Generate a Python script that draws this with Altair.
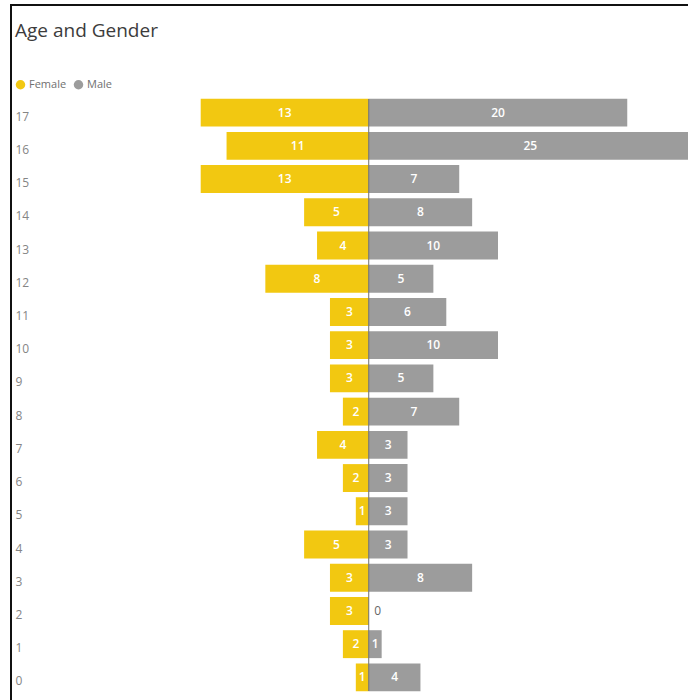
import altair as alt
import pandas as pd

# Age groups, top to bottom
ages = [17, 16, 15, 14, 13, 12, 11, 10, 9, 8, 7, 6, 5, 4, 3, 2, 1, 0]
female = [13, 11, 13, 5, 4, 8, 3, 3, 3, 2, 4, 2, 1, 5, 3, 3, 2, 1]
male = [20, 25, 7, 8, 10, 5, 6, 10, 5, 7, 3, 3, 3, 3, 8, 0, 1, 4]

genders = ["Female", "Male"]
colors = ["#F2C811", "#9C9C9C"]
chart_title = "Age and Gender"

rows = []
for a, f, m in zip(ages, female, male):
    rows.append({"age": a, "gender": "Female", "count": f, "signed": -f})
    rows.append({"age": a, "gender": "Male", "count": m, "signed": m})
df = pd.DataFrame(rows)

W, H = 676, 598
FONT = "Open Sans"

x_scale = alt.Scale(domain=[-27.6, 24.7], nice=False, zero=False)
y_scale = alt.Scale(paddingInner=0.16, paddingOuter=0.08)

base = alt.Chart(df)

y_enc = alt.Y(
    "age:O",
    sort="descending",
    scale=y_scale,
    axis=alt.Axis(
        title=None,
        orient="left",
        domain=False,
        ticks=False,
        tickSize=0,
        labelAlign="left",
        labelPadding=-3,
        labelOffset=4,
        labelFont=FONT,
        labelFontSize=12,
        labelColor="#858585",
    ),
)

bars = base.mark_bar(clip=True).encode(
    x=alt.X("signed:Q", scale=x_scale, axis=None),
    y=y_enc,
    color=alt.Color(
        "gender:N",
        scale=alt.Scale(domain=genders, range=colors),
        legend=alt.Legend(
            title=None,
            orient="none",
            legendX=3,
            legendY=-17,
            direction="horizontal",
            symbolType="circle",
            symbolSize=90,
            symbolStrokeWidth=0,
            labelFont=FONT,
            labelFontSize=11,
            labelColor="#707070",
            columnPadding=6,
            symbolOffset=0,
            labelOffset=3,
            padding=0,
        ),
    ),
)

# Centre line between the two sides
center = alt.Chart(pd.DataFrame({"v": [0]})).mark_rule(
    color="#6f6f6f", strokeWidth=1
).encode(
    x=alt.X("v:Q", scale=x_scale),
    y=alt.value(3),
    y2=alt.value(H - 3),
)

labels = base.transform_filter(alt.datum["count"] > 0).transform_calculate(
    mid="datum.signed / 2"
).mark_text(
    color="white", font=FONT, fontSize=12, fontWeight=600, baseline="middle"
).encode(
    x=alt.X("mid:Q", scale=x_scale),
    y=alt.Y("age:O", sort="descending", scale=y_scale),
    text="count:Q",
)

zero_labels = base.transform_filter(
    (alt.datum["count"] == 0) & (alt.datum["gender"] == "Male")
).mark_text(
    color="#666666", font=FONT, fontSize=12, baseline="middle", align="center", dx=9
).encode(
    x=alt.X("signed:Q", scale=x_scale),
    y=alt.Y("age:O", sort="descending", scale=y_scale),
    text="count:Q",
)

one_row = alt.Chart(pd.DataFrame({"v": [0]}))

# Chart heading
heading = one_row.mark_text(
    align="left", baseline="alphabetic", font=FONT, fontSize=19, color="#3c3c3c"
).encode(x=alt.value(3), y=alt.value(-59), text=alt.value(chart_title))

# Visual frame along the top and left edges
frame_left = one_row.mark_rule(color="#111111", strokeWidth=2).encode(
    x=alt.value(-1), y=alt.value(-91), y2=alt.value(H + 10)
)
frame_top = one_row.mark_rule(color="#111111", strokeWidth=2).encode(
    x=alt.value(-2), x2=alt.value(W + 5), y=alt.value(-91)
)

chart = (
    alt.layer(bars, center, labels, zero_labels, heading, frame_left, frame_top)
    .properties(
        width=W,
        height=H,
        autosize=alt.AutoSizeParams(type="none"),
        padding={"left": 12, "top": 96, "right": 0, "bottom": 6},
    )
    .configure_view(stroke=None)
)

chart.save("out.html", embed_options={"renderer": "svg", "actions": False})
